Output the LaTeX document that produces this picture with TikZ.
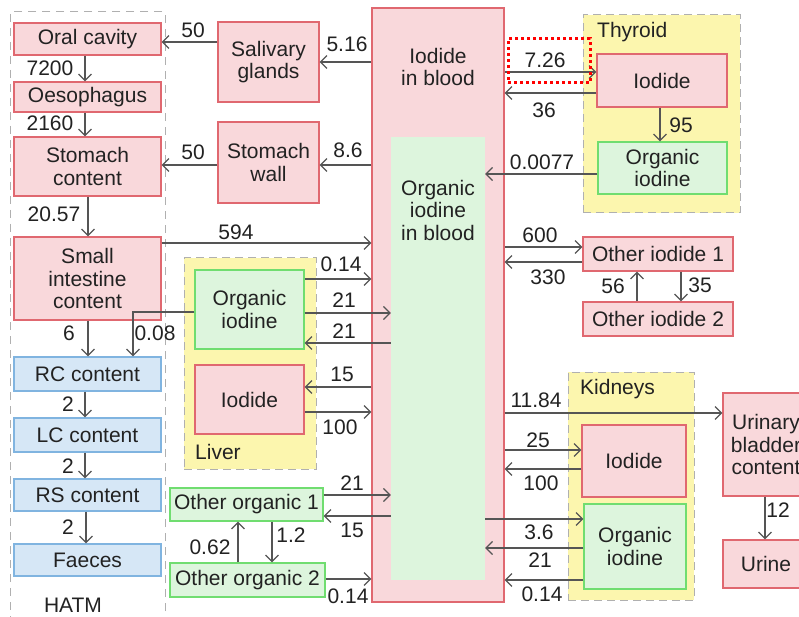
\documentclass[tikz,border=0pt]{standalone}
\usepackage{fontspec}
\setmainfont{Liberation Sans}
\usetikzlibrary{arrows.meta}
\definecolor{pinkf}{HTML}{F9D8DB}
\definecolor{pinkd}{HTML}{E06870}
\definecolor{greenf}{HTML}{DDF5DD}
\definecolor{greend}{HTML}{70DD70}
\definecolor{bluef}{HTML}{D6E7F6}
\definecolor{blued}{HTML}{80B4E0}
\definecolor{yelf}{HTML}{FCF6AE}
\definecolor{dashg}{HTML}{B0B0B0}
\definecolor{arrc}{HTML}{555555}
\definecolor{txt}{HTML}{222222}
\begin{document}
\begin{tikzpicture}[x=1pt,y=-1pt,
 every node/.style={text=txt, font=\fontsize{21}{22.5}\selectfont},
 box/.style={draw, line width=1.2pt, inner sep=0pt, align=center},
 pbox/.style={box, fill=pinkf, draw=pinkd},
 gbox/.style={box, fill=greenf, draw=greend},
 bbox/.style={box, fill=bluef, draw=blued},
 grp/.style={fill=yelf, draw=dashg, dash pattern=on 8pt off 5pt, line width=1pt, inner sep=0pt},
 arr/.style={draw=arrc, line width=1.2pt, -{Straight Barb[length=6.5pt,width=13pt]}},
 lab/.style={inner sep=0pt}
]
\useasboundingbox (0,0) rectangle (799,617);
\clip (0,0) rectangle (799,617);
\fill[white] (0,0) rectangle (799,617);

% containers
\node[draw=dashg, dash pattern=on 8pt off 6pt, line width=1pt, inner sep=0pt, minimum width=155pt, minimum height=640pt] (hatm) at (87.5,332) {};
\node[grp, minimum width=157pt, minimum height=198pt] (thy) at (661.5,114) {};
\node[grp, minimum width=132pt, minimum height=211pt] (liv) at (250,363.5) {};
\node[grp, minimum width=126pt, minimum height=228pt] (kid) at (631,486) {};

% blood
\node[pbox, minimum width=132pt, minimum height=594pt] (blood) at (438,305) {};
\node[inner sep=0pt, fill=greenf, minimum width=94pt, minimum height=443pt] (oib) at (438,358.5) {};
\node[lab, align=center] (tblood) at (438,67) {Iodide\\in blood};
\node[lab, align=center] (toib) at (438,210) {Organic\\iodine\\in blood};

% HATM boxes
\node[pbox, minimum width=147pt, minimum height=32pt] (oral) at (87.5,39) {Oral cavity};
\node[pbox, minimum width=147pt, minimum height=30pt] (oes) at (87.5,97) {Oesophagus};
\node[pbox, minimum width=147pt, minimum height=59pt] (stc) at (87.5,166.5) {Stomach\\content};
\node[pbox, minimum width=147pt, minimum height=83pt] (sic) at (87.5,278.5) {Small\\intestine\\content};
\node[bbox, minimum width=147pt, minimum height=34pt] (rc) at (87.5,374) {RC content};
\node[bbox, minimum width=147pt, minimum height=34pt] (lc) at (87.5,435) {LC content};
\node[bbox, minimum width=147pt, minimum height=32pt] (rs) at (87.5,495) {RS content};
\node[bbox, minimum width=147pt, minimum height=32pt] (fae) at (87.5,560) {Faeces};
\node[lab] (thatm) at (73,605) {HATM};

\node[pbox, minimum width=101pt, minimum height=80pt] (sal) at (268.5,62) {Salivary\\glands};
\node[pbox, minimum width=101pt, minimum height=81pt] (stw) at (268.5,162.5) {Stomach\\wall};

% thyroid
\node[lab, anchor=west] (tthy) at (597,32) {Thyroid};
\node[pbox, minimum width=130pt, minimum height=53pt] (thyI) at (662,80.5) {Iodide};
\node[gbox, minimum width=129pt, minimum height=52pt] (thyO) at (662.5,168) {Organic\\iodine};

% other iodide
\node[pbox, minimum width=150pt, minimum height=34pt] (oi1) at (658,254) {Other iodide 1};
\node[pbox, minimum width=150pt, minimum height=34pt] (oi2) at (658,319) {Other iodide 2};

% liver
\node[gbox, minimum width=109pt, minimum height=79pt] (livO) at (249.5,309.5) {Organic\\iodine};
\node[pbox, minimum width=109pt, minimum height=69pt] (livI) at (249.5,399.5) {Iodide};
\node[lab, anchor=west] (tliv) at (195,452) {Liver};

% kidneys
\node[lab, anchor=west] (tkid) at (580,389) {Kidneys};
\node[pbox, minimum width=104pt, minimum height=72pt] (kidI) at (634,461) {Iodide};
\node[gbox, minimum width=102pt, minimum height=85pt] (kidO) at (635,546.5) {Organic\\iodine};

% urinary
\node[pbox, minimum width=86pt, minimum height=103pt] (ubc) at (766,444.5) {Urinary\\bladder\\content};
\node[pbox, minimum width=86pt, minimum height=48pt] (urine) at (766,564) {Urine};

% other organic
\node[gbox, minimum width=153pt, minimum height=33pt] (oo1) at (246.5,504.5) {Other organic 1};
\node[gbox, minimum width=155pt, minimum height=34pt] (oo2) at (247.5,580) {Other organic 2};

% arrows HATM
\draw[arr] (sal.west |- 0,42) -- (oral.east |- 0,42);
\draw[arr] (oral.south -| 85,0) -- (oes.north -| 85,0);
\draw[arr] (oes.south -| 85,0) -- (stc.north -| 85,0);
\draw[arr] (stw.west |- 0,165) -- (stc.east |- 0,165);
\draw[arr] (stc.south -| 88,0) -- (sic.north -| 88,0);
\draw[arr] (sic.south -| 88,0) -- (rc.north -| 88,0);
\draw[arr] (livO.west |- 0,312) -| (rc.north -| 133,0);
\draw[arr] (rc.south -| 85,0) -- (lc.north -| 85,0);
\draw[arr] (lc.south -| 85,0) -- (rs.north -| 85,0);
\draw[arr] (rs.south -| 86,0) -- (fae.north -| 86,0);

% blood <-> gut
\draw[arr] (blood.west |- 0,62) -- (sal.east |- 0,62);
\draw[arr] (blood.west |- 0,165) -- (stw.east |- 0,165);
\draw[arr] (sic.east |- 0,243) -- (blood.west |- 0,243);

% thyroid
\draw[arr] (blood.east |- 0,72) -- (thyI.west |- 0,72);
\draw[arr] (thyI.west |- 0,93) -- (blood.east |- 0,93);
\draw[arr] (thyI.south -| 660,0) -- (thyO.north -| 660,0);
\draw[arr] (thyO.west |- 0,174) -- (oib.east |- 0,174);

% other iodide
\draw[arr] (blood.east |- 0,247) -- (oi1.west |- 0,247);
\draw[arr] (oi1.west |- 0,262) -- (blood.east |- 0,262);
\draw[arr] (oi2.north -| 637,0) -- (oi1.south -| 637,0);
\draw[arr] (oi1.south -| 681,0) -- (oi2.north -| 681,0);

% liver
\draw[arr] (livO.east |- 0,279) -- (blood.west |- 0,279);
\draw[arr] (livO.east |- 0,313) -- (oib.west |- 0,313);
\draw[arr] (oib.west |- 0,343) -- (livO.east |- 0,343);
\draw[arr] (blood.west |- 0,387) -- (livI.east |- 0,387);
\draw[arr] (livI.east |- 0,412) -- (blood.west |- 0,412);

% kidneys / urinary
\draw[arr] (blood.east |- 0,413) -- (ubc.west |- 0,413);
\draw[arr] (blood.east |- 0,450) -- (kidI.west |- 0,450);
\draw[arr] (kidI.west |- 0,469) -- (blood.east |- 0,469);
\draw[arr] (oib.east |- 0,519) -- (kidO.west |- 0,519);
\draw[arr] (kidO.west |- 0,548) -- (oib.east |- 0,548);
\draw[arr] (kidO.west |- 0,580) -- (blood.east |- 0,580);
\draw[arr] (ubc.south -| 765,0) -- (urine.north -| 765,0);

% other organic
\draw[arr] (oo1.east |- 0,495) -- (oib.west |- 0,495);
\draw[arr] (oib.west |- 0,516) -- (oo1.east |- 0,516);
\draw[arr] (oo2.north -| 238,0) -- (oo1.south -| 238,0);
\draw[arr] (oo1.south -| 272,0) -- (oo2.north -| 272,0);
\draw[arr] (oo2.east |- 0,579) -- (blood.west |- 0,579);

% labels
\node[lab] (l50a) at (193,30) {50};
\node[lab] (l7200) at (50,68) {7200};
\node[lab] (l2160) at (50,123) {2160};
\node[lab] (l50b) at (193,152) {50};
\node[lab] (l516) at (347,44) {5.16};
\node[lab] (l86) at (348,150) {8.6};
\node[lab] (l726) at (545,60) {7.26};
\node[lab] (l36) at (544,110) {36};
\node[lab] (l95) at (681,125) {95};
\node[lab] (l0077) at (542,162) {0.0077};
\node[lab] (l2057) at (54,214) {20.57};
\node[lab] (l594) at (236,232) {594};
\node[lab] (l6) at (69,333) {6};
\node[lab] (l008) at (155,333) {0.08};
\node[lab] (l2a) at (68,404) {2};
\node[lab] (l2b) at (68,466) {2};
\node[lab] (l2c) at (68,527) {2};
\node[lab] (l014a) at (341,264) {0.14};
\node[lab] (l21a) at (344,300) {21};
\node[lab] (l21b) at (344,331) {21};
\node[lab] (l15a) at (342,374) {15};
\node[lab] (l100a) at (340,427) {100};
\node[lab] (l600) at (540,235) {600};
\node[lab] (l330) at (548,277) {330};
\node[lab] (l56) at (613,286) {56};
\node[lab] (l35) at (700,285) {35};
\node[lab] (l1184) at (536,400) {11.84};
\node[lab] (l25) at (538,440) {25};
\node[lab] (l100b) at (541,483) {100};
\node[lab] (l36b) at (539,532) {3.6};
\node[lab] (l21c) at (540,560) {21};
\node[lab] (l014b) at (542,594) {0.14};
\node[lab] (l12) at (778,510) {12};
\node[lab] (l21d) at (352,483) {21};
\node[lab] (l15b) at (352,530) {15};
\node[lab] (l062) at (210,547) {0.62};
\node[lab] (l12b) at (291,535) {1.2};
\node[lab] (l014c) at (348,596) {0.14};

% highlight
\node[draw=red, line width=3pt, dash pattern=on 3pt off 3pt, inner sep=0pt, minimum width=82pt, minimum height=44pt] (hl) at (549,61) {};
\end{tikzpicture}
\end{document}
